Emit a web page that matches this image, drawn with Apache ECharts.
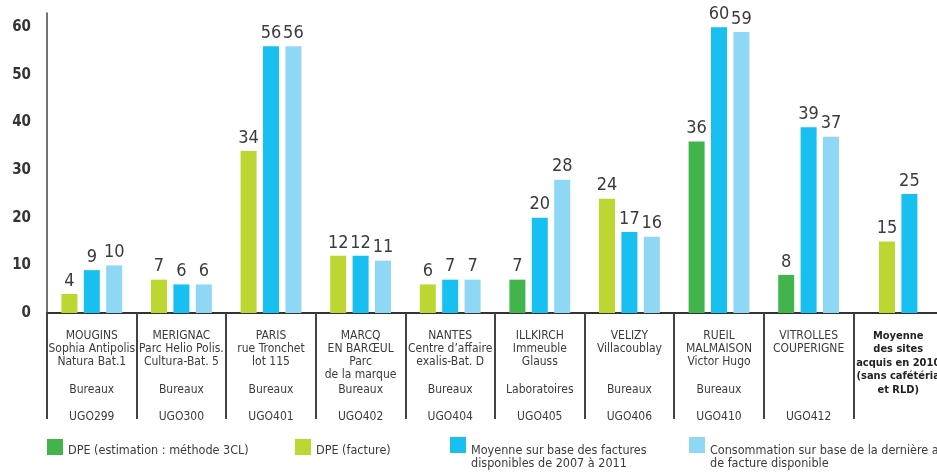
<!DOCTYPE html>
<html lang="fr">
<head>
<meta charset="UTF-8">
<title>Consommation des sites</title>
<style>
  html, body { margin: 0; padding: 0; background: #fff; }
  #main { width: 937px; height: 473px; }
</style>
</head>
<body>
<div id="main"></div>
<script src="https://cdn.jsdelivr.net/npm/echarts@6/dist/echarts.min.js"></script>
<script>
// données
var siteNames = [
    ['MOUGINS', 'Sophia Antipolis', 'Natura Bat.1'],
    ['MERIGNAC', 'Parc Helio Polis.', 'Cultura-Bat. 5'],
    ['PARIS', 'rue Tronchet', 'lot 115'],
    ['MARCQ', 'EN BARŒUL', 'Parc', 'de la marque'],
    ['NANTES', 'Centre d’affaire', 'exalis-Bat. D'],
    ['ILLKIRCH', 'Immeuble', 'Glauss'],
    ['VELIZY', 'Villacoublay'],
    ['RUEIL', 'MALMAISON', 'Victor Hugo'],
    ['VITROLLES', 'COUPERIGNE'],
    ['Moyenne', 'des sites', 'acquis en 2010', '(sans cafétéria', 'et RLD)']
];
var siteTypes = ['Bureaux', 'Bureaux', 'Bureaux', 'Bureaux', 'Bureaux', 'Laboratoires', 'Bureaux', 'Bureaux', '', ''];
var siteCodes = ['UGO299', 'UGO300', 'UGO401', 'UGO402', 'UGO404', 'UGO405', 'UGO406', 'UGO410', 'UGO412', ''];
var categories = ['MOUGINS', 'MERIGNAC', 'PARIS', 'MARCQ', 'NANTES', 'ILLKIRCH', 'VELIZY', 'RUEIL', 'VITROLLES', 'Moyenne'];

var dpe3cl     = [null, null, null, null, null, 7, null, 36, 8, null];
var dpeFacture = [4, 7, 34, 12, 6, null, 24, null, null, null];
var moyenne    = [9, 6, 56, 12, 7, 20, 17, 60, 39, null];
var conso      = [10, 6, 56, 11, 7, 28, 16, 59, 37, null];
// moyenne des sites acquis en 2010 (2 barres seulement)
var moyFacture = [null, null, null, null, null, null, null, null, null, 15];
var moyMoyenne = [null, null, null, null, null, null, null, null, null, 25];

var yTicks = [0, 10, 20, 30, 40, 50, 60];

var names = {
    cl: 'DPE (estimation : méthode 3CL)',
    fact: 'DPE (facture)',
    moy: 'Moyenne sur base des factures|disponibles de 2007 à 2011',
    cons: 'Consommation sur base de la dernière année|de facture disponible'
};
var colors = { cl: '#42b44c', fact: '#bed631', moy: '#17c0f0', cons: '#8fd8f5' };

var narrow = '"Liberation Sans Narrow", "DejaVu Sans Condensed", "Roboto", sans-serif';
var txt = '#3b3b3b';

var chart = echarts.init(document.getElementById('main'), null, { renderer: 'canvas' });

function catLabel(value, idx) {
    var lines = [];
    if (idx === 9) {
        siteNames[idx].forEach(function (l) { lines.push('{b|' + l + '}'); });
        return lines.join('\n');
    }
    for (var i = 0; i < 4; i++) {
        var l = siteNames[idx][i];
        lines.push('{n|' + (l ? l : ' ') + '}');
    }
    lines.push('{t|' + (siteTypes[idx] || ' ') + '}');
    lines.push('{c|' + (siteCodes[idx] || ' ') + '}');
    return lines.join('\n');
}

var barLabel = {
    show: true,
    position: 'top',
    distance: 4,
    fontSize: 18,
    fontFamily: narrow,
    color: txt,
    formatter: function (p) { return p.value == null ? '' : p.value; }
};

// légende : un espace en tête pour descendre le texte sous le haut du carré
function legendAt(name, left) {
    var two = name.indexOf('|') >= 0;
    return {
        left: left,
        top: two ? 430 : 438,
        padding: 0,
        itemWidth: 16,
        itemHeight: 16,
        icon: 'rect',
        selectedMode: false,
        data: [name],
        formatter: function (n) {
            var p = n.split('|');
            return (two ? '{s2| }' : '{s1| }') + '\n' + p.map(function (l) { return '{a|' + l + '}'; }).join('\n');
        },
        textStyle: {
            fontSize: 12.5,
            fontFamily: narrow,
            color: txt,
            rich: {
                s1: { lineHeight: 8, fontSize: 4 },
                s2: { lineHeight: 24, fontSize: 4 },
                a: { lineHeight: two ? 13 : 14, fontSize: 12.5, fontFamily: narrow, color: txt }
            }
        }
    };
}

var option = {
    animation: false,
    legend: [
        legendAt(names.cl, 47),
        legendAt(names.fact, 295),
        legendAt(names.moy, 450),
        legendAt(names.cons, 689)
    ],
    grid: { left: 47, top: 13, width: 896, height: 300, containLabel: false, outerBoundsMode: 'none' },
    xAxis: [
        {
            type: 'category',
            data: categories,
            axisLine: { lineStyle: { color: '#333', width: 2 } },
            axisTick: { show: true, length: 106, lineStyle: { color: '#444', width: 2 } },
            axisLabel: {
                interval: 0,
                margin: 16,
                formatter: catLabel,
                color: txt,
                fontFamily: narrow,
                rich: {
                    n: { fontSize: 12, lineHeight: 13, fontFamily: narrow, color: txt, align: 'center' },
                    t: { fontSize: 12, lineHeight: 17, fontFamily: narrow, color: txt, align: 'center' },
                    c: { fontSize: 12, lineHeight: 37, fontFamily: narrow, color: txt, align: 'center' },
                    b: { fontSize: 11, lineHeight: 13.5, fontWeight: 'bold', fontFamily: narrow, color: '#222', align: 'center' }
                }
            }
        },
        {
            type: 'category',
            data: categories,
            show: false
        }
    ],
    yAxis: {
        type: 'value',
        min: 0,
        max: 63,
        interval: 10,
        splitLine: { show: false },
        axisTick: { show: false },
        axisLine: { show: true, lineStyle: { color: '#444', width: 1.5 } },
        axisLabel: {
            margin: 16,
            fontSize: 15,
            fontWeight: 'bold',
            fontFamily: narrow,
            color: '#333',
            padding: [0, 0, 12, 0],
            formatter: function (v) { return yTicks.indexOf(v) >= 0 ? v : ''; }
        }
    },
    series: [
        { name: names.cl, type: 'bar', stack: 'dpe', barWidth: 16, barGap: '40%', data: dpe3cl, itemStyle: { color: colors.cl }, label: barLabel },
        { name: names.fact, type: 'bar', stack: 'dpe', barWidth: 16, barGap: '40%', data: dpeFacture, itemStyle: { color: colors.fact }, label: barLabel },
        { name: names.moy, type: 'bar', barWidth: 16, barGap: '40%', data: moyenne, itemStyle: { color: colors.moy }, label: barLabel },
        { name: names.cons, type: 'bar', barWidth: 16, barGap: '40%', data: conso, itemStyle: { color: colors.cons }, label: barLabel },
        { name: names.fact, type: 'bar', xAxisIndex: 1, barWidth: 16, barGap: '40%', data: moyFacture, itemStyle: { color: colors.fact }, label: barLabel },
        { name: names.moy, type: 'bar', xAxisIndex: 1, barWidth: 16, barGap: '40%', data: moyMoyenne, itemStyle: { color: colors.moy }, label: barLabel }
    ]
};

chart.setOption(option);
</script>
</body>
</html>
